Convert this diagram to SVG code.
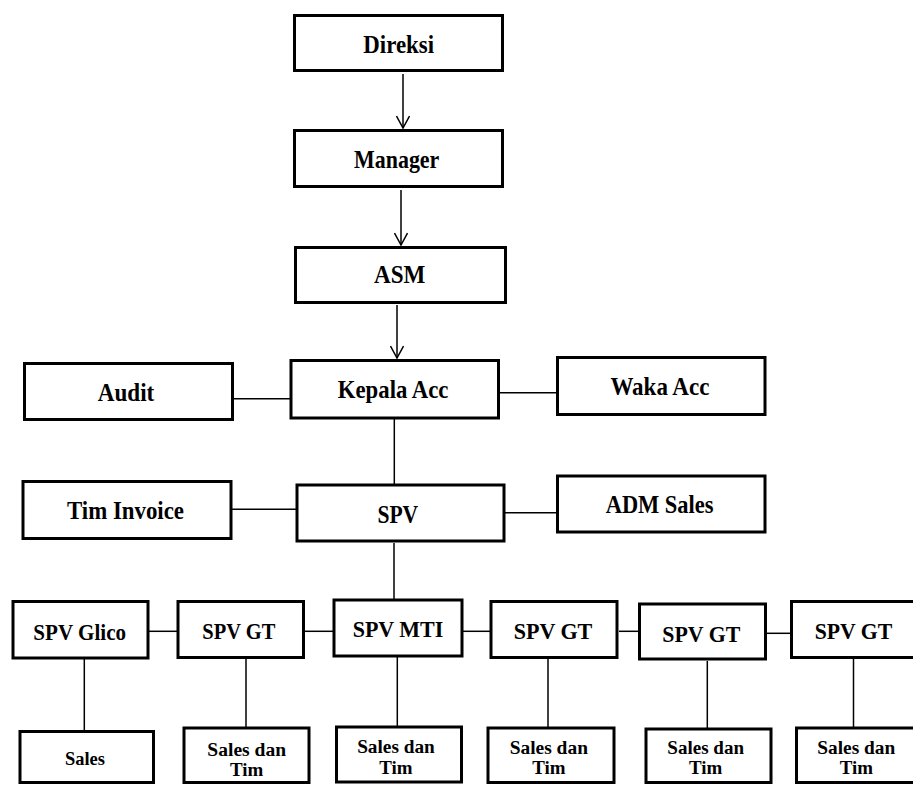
<svg xmlns="http://www.w3.org/2000/svg" width="913" height="785" viewBox="0 0 913 785">
<style>
.box{fill:#fff;stroke:#000;stroke-width:3}
.ln{stroke:#000;stroke-width:1.5;fill:none}
.t1{font-size:26px}
.t2{font-size:24px}
.t3{font-size:18px}
</style>
<defs>
<marker id="ah" viewBox="0 0 14 14" refX="13" refY="7" markerWidth="14" markerHeight="14" markerUnits="userSpaceOnUse" orient="auto">
<path d="M1,0.5 L13,7 L1,13.5" fill="none" stroke="#000" stroke-width="1.5"/>
</marker>
</defs>
<rect width="913" height="785" fill="#fff"/>
<g id="connectors">
<line class="ln" x1="403" y1="74" x2="403" y2="128" marker-end="url(#ah)"/>
<line class="ln" x1="401" y1="190" x2="401" y2="245" marker-end="url(#ah)"/>
<line class="ln" x1="397" y1="305" x2="397" y2="358" marker-end="url(#ah)"/>
<line class="ln" x1="234" y1="398.7" x2="290" y2="398.7"/>
<line class="ln" x1="500" y1="392.7" x2="556" y2="392.7"/>
<line class="ln" x1="394.3" y1="419" x2="394.3" y2="484"/>
<line class="ln" x1="232" y1="509.3" x2="296" y2="509.3"/>
<line class="ln" x1="505" y1="512.7" x2="556" y2="512.7"/>
<line class="ln" x1="394" y1="543" x2="394" y2="599"/>
<line class="ln" x1="149" y1="631.3" x2="177" y2="631.3"/>
<line class="ln" x1="305" y1="631.3" x2="333" y2="631.3"/>
<line class="ln" x1="463" y1="631.3" x2="490" y2="631.3"/>
<line class="ln" x1="619" y1="631.3" x2="638" y2="631.3"/>
<line class="ln" x1="767" y1="633.3" x2="790" y2="633.3"/>
<line class="ln" x1="84.3" y1="659" x2="84.3" y2="730"/>
<line class="ln" x1="246" y1="659" x2="246" y2="727"/>
<line class="ln" x1="397.3" y1="657" x2="397.3" y2="726"/>
<line class="ln" x1="548" y1="659" x2="548" y2="727"/>
<line class="ln" x1="707.3" y1="661" x2="707.3" y2="728"/>
<line class="ln" x1="853.5" y1="659" x2="853.5" y2="727"/>
</g>
<g font-family="'Liberation Serif', 'Times New Roman', 'DejaVu Serif', serif" font-weight="bold" fill="#000" text-anchor="middle">
<g id="direksi"><rect class="box" x="294.5" y="15.5" width="208" height="55"/><text class="t1" x="398.7" y="52.7" textLength="70.7" lengthAdjust="spacingAndGlyphs">Direksi</text></g>
<g id="manager"><rect class="box" x="294.5" y="130.5" width="208" height="56"/><text class="t1" x="396.7" y="168.3" textLength="85.3" lengthAdjust="spacingAndGlyphs">Manager</text></g>
<g id="asm"><rect class="box" x="295.5" y="247.5" width="210" height="55"/><text class="t1" x="399.7" y="283.3" textLength="51.3" lengthAdjust="spacingAndGlyphs">ASM</text></g>
<g id="audit"><rect class="box" x="24.5" y="363.5" width="208" height="56"/><text class="t1" x="126" y="401" textLength="56.5" lengthAdjust="spacingAndGlyphs">Audit</text></g>
<g id="kepala-acc"><rect class="box" x="291" y="360.5" width="207.5" height="57.5"/><text class="t1" x="393.1" y="398.3" textLength="110.6" lengthAdjust="spacingAndGlyphs">Kepala Acc</text></g>
<g id="waka-acc"><rect class="box" x="557.5" y="357.5" width="207.5" height="57"/><text class="t1" x="659.9" y="395" textLength="99" lengthAdjust="spacingAndGlyphs">Waka Acc</text></g>
<g id="tim-invoice"><rect class="box" x="23" y="481.5" width="208" height="57"/><text class="t1" x="125.5" y="519" textLength="117" lengthAdjust="spacingAndGlyphs">Tim Invoice</text></g>
<g id="spv"><rect class="box" x="297" y="485" width="207" height="56"/><text class="t1" x="397.8" y="523.3" textLength="40.8" lengthAdjust="spacingAndGlyphs">SPV</text></g>
<g id="adm-sales"><rect class="box" x="557.5" y="476" width="207.5" height="56"/><text class="t1" x="659.6" y="513.3" textLength="107.8" lengthAdjust="spacingAndGlyphs">ADM Sales</text></g>
<g id="spv-glico"><rect class="box" x="13" y="601.5" width="135" height="56.5"/><text class="t2" x="79.7" y="640" textLength="92.7" lengthAdjust="spacingAndGlyphs">SPV Glico</text></g>
<g id="spv-gt-1"><rect class="box" x="178" y="601.5" width="125.5" height="56"/><text class="t2" x="238.8" y="639.3" textLength="73" lengthAdjust="spacingAndGlyphs">SPV GT</text></g>
<g id="spv-mti"><rect class="box" x="334" y="600" width="128" height="56"/><text class="t2" x="398" y="637.3" textLength="90.7" lengthAdjust="spacingAndGlyphs">SPV MTI</text></g>
<g id="spv-gt-2"><rect class="box" x="491" y="601.5" width="126" height="56"/><text class="t2" x="553" y="639.3" textLength="78.7" lengthAdjust="spacingAndGlyphs">SPV GT</text></g>
<g id="spv-gt-3"><rect class="box" x="639.5" y="604" width="126" height="55"/><text class="t2" x="701.3" y="641.7" textLength="78" lengthAdjust="spacingAndGlyphs">SPV GT</text></g>
<g id="spv-gt-4"><rect class="box" x="791.5" y="601.5" width="130" height="56"/><text class="t2" x="853.5" y="639.3" textLength="77.6" lengthAdjust="spacingAndGlyphs">SPV GT</text></g>
<g id="sales"><rect class="box" x="20" y="731.5" width="133.5" height="51"/><text class="t3" x="85" y="765" textLength="40" lengthAdjust="spacingAndGlyphs">Sales</text></g>
<g id="sales-tim-1"><rect class="box" x="184" y="728" width="125" height="54.5"/><text class="t3" x="246.7" y="755.7" textLength="78.7" lengthAdjust="spacingAndGlyphs">Sales dan</text><text class="t3" x="246.7" y="776" textLength="33.3" lengthAdjust="spacingAndGlyphs">Tim</text></g>
<g id="sales-tim-2"><rect class="box" x="336.5" y="727" width="125" height="55"/><text class="t3" x="396" y="753.3" textLength="77.7" lengthAdjust="spacingAndGlyphs">Sales dan</text><text class="t3" x="396" y="774" textLength="33.3" lengthAdjust="spacingAndGlyphs">Tim</text></g>
<g id="sales-tim-3"><rect class="box" x="488" y="728" width="126" height="54.5"/><text class="t3" x="548.8" y="754" textLength="78.3" lengthAdjust="spacingAndGlyphs">Sales dan</text><text class="t3" x="548.8" y="774.3" textLength="33.3" lengthAdjust="spacingAndGlyphs">Tim</text></g>
<g id="sales-tim-4"><rect class="box" x="646" y="729" width="125" height="53.5"/><text class="t3" x="705.7" y="754" textLength="76.7" lengthAdjust="spacingAndGlyphs">Sales dan</text><text class="t3" x="705.7" y="774.3" textLength="33.3" lengthAdjust="spacingAndGlyphs">Tim</text></g>
<g id="sales-tim-5"><rect class="box" x="796.5" y="728" width="130" height="54.5"/><text class="t3" x="856.3" y="754" textLength="78" lengthAdjust="spacingAndGlyphs">Sales dan</text><text class="t3" x="856.3" y="774.3" textLength="33.3" lengthAdjust="spacingAndGlyphs">Tim</text></g>
</g>
</svg>
